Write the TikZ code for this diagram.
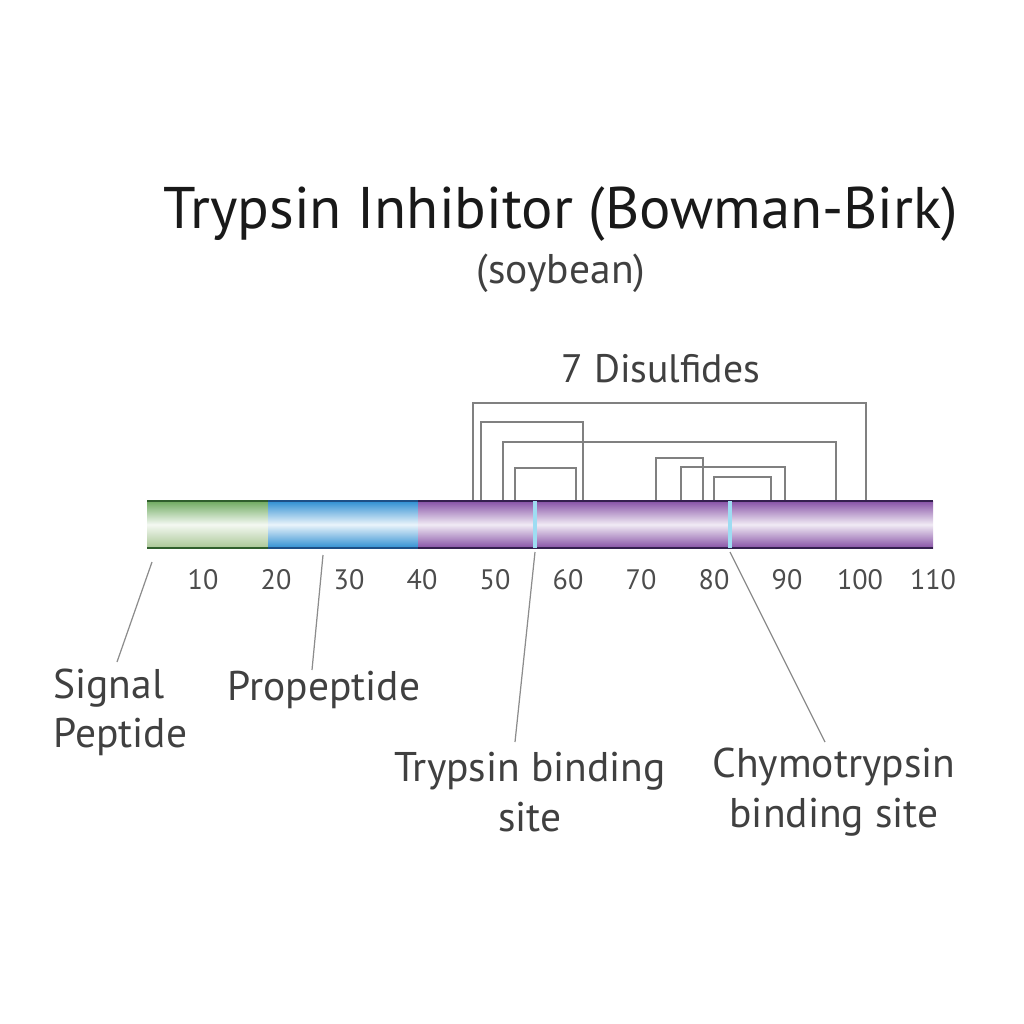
\documentclass[tikz,border=0pt]{standalone}
\usepackage{fontspec}
\setmainfont{PT Sans}
\definecolor{grnA}{HTML}{6FAA60}
\definecolor{grnB}{HTML}{A9C795}
\definecolor{grnE}{HTML}{2F5E2C}
\definecolor{bluA}{HTML}{2F8FD2}
\definecolor{bluE}{HTML}{1D4F86}
\definecolor{purA}{HTML}{8752A6}
\definecolor{purE}{HTML}{35204F}
\definecolor{site}{HTML}{9EDCF2}
\begin{document}
\begin{tikzpicture}[x=0.01cm,y=-0.01cm,
  lbl/.style={text=black!75,font=\fontsize{11.8}{14}\selectfont},
  tick/.style={text=black!70,font=\fontsize{8}{9}\selectfont},
  bond/.style={black!50,line width=0.45pt},
  leader/.style={black!45,line width=0.35pt}]
\useasboundingbox (0,0) rectangle (1024,1024);

\node[text=black!90,font=\fontsize{16.7}{19}\selectfont] (title) at (561,214) {Trypsin Inhibitor (Bowman-Birk)};
\node[lbl] (src) at (561,273) {(soybean)};
\node[lbl,font=\fontsize{11.3}{14}\selectfont] (ss) at (661,369) {7 Disulfides};

% disulfide bridges
\foreach \a/\b/\h in {473/866/403, 481/583/422, 503/836/442, 515/576/468,
                      656/703/458, 681/785/467, 714/771/477}
  \draw[bond] (\a,501) |- (\b,\h) -- (\b,501);

% the chain
\shade[top color=grnA, bottom color=grnB, middle color=white!92!grnA] (147,501) rectangle (268,548);
\shade[top color=bluA, bottom color=bluA, middle color=white!90!bluA] (268,501) rectangle (418,548);
\shade[top color=purA, bottom color=purA, middle color=white!88!purA] (418,501) rectangle (933,548);
\draw[grnE,line width=0.8pt] (147,501) -- (268,501) (147,548) -- (268,548);
\draw[bluE,line width=0.8pt] (268,501) -- (418,501) (268,548) -- (418,548);
\draw[purE,line width=0.8pt] (418,501) -- (933,501) (418,548) -- (933,548);
\draw[site,line width=1.1pt] (535,501) -- (535,548) (730,501) -- (730,548);

\foreach \n in {1,...,11}{
  \pgfmathtruncatemacro\res{10*\n}
  \node[tick] (t\n) at (130+73*\n,580) {\res};
}

% labels
\node[lbl,anchor=west,align=left] (sig) at (41,712) {Signal\\Peptide};
\node[lbl] (pro) at (324,690) {Propeptide};
\node[lbl,align=center] (tryp) at (530,792) {Trypsin binding\\site};
\node[lbl,align=center] (chym) at (834,792) {Chymotrypsin\\binding site};

\coordinate (sigA) at (152,562); \coordinate (sigB) at (117,662);
\coordinate (proA) at (323,555); \coordinate (proB) at (312,670);
\coordinate (trA) at (535,552);  \coordinate (trB) at (515,742);
\coordinate (chA) at (730,552);  \coordinate (chB) at (825,742);
\draw[leader] (sigA) -- (sigB);
\draw[leader] (proA) -- (proB);
\draw[leader] (trA) -- (trB);
\draw[leader] (chA) -- (chB);
\end{tikzpicture}
\end{document}
